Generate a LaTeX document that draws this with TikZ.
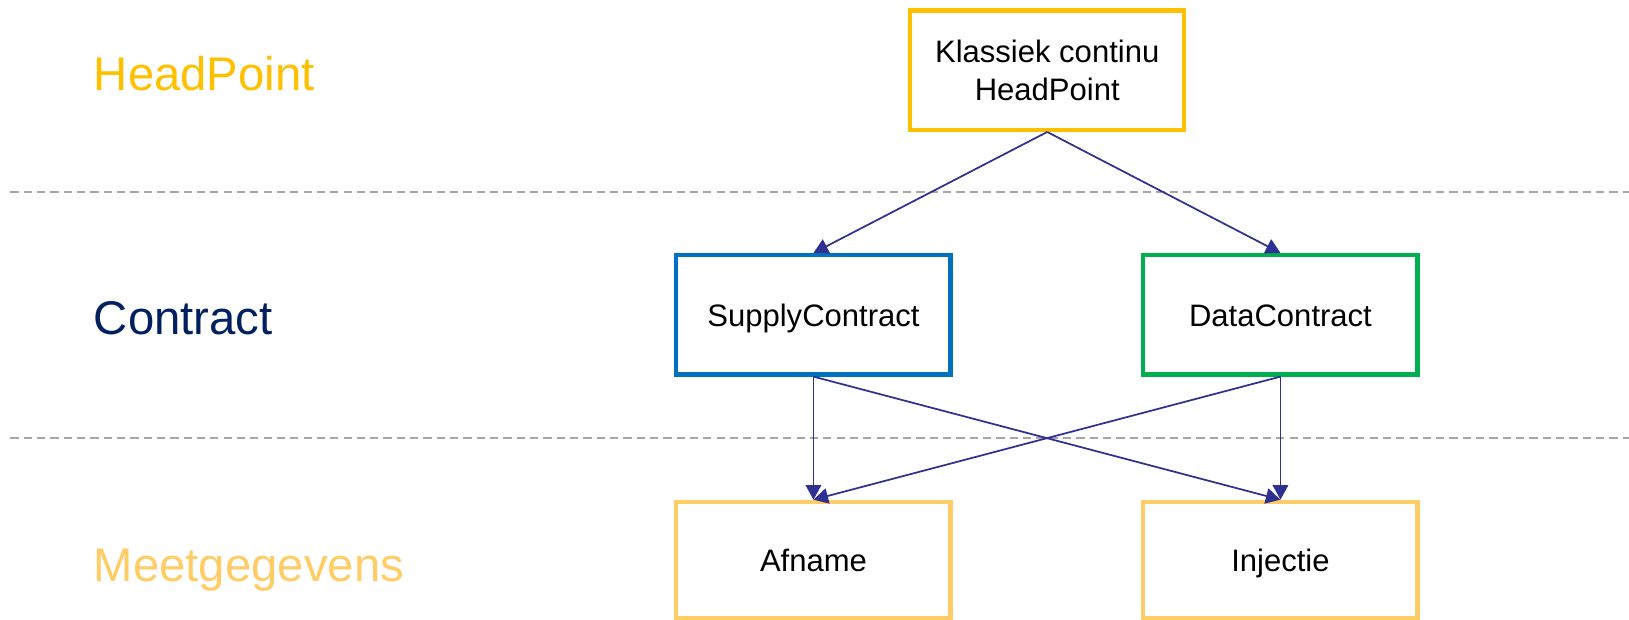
\documentclass[tikz,border=0pt]{standalone}
\usepackage{fontspec}
\setmainfont{Liberation Sans}
\usetikzlibrary{arrows.meta}
\definecolor{hpyellow}{HTML}{FFC000}
\definecolor{ctblue}{HTML}{0070C0}
\definecolor{ctgreen}{HTML}{00B050}
\definecolor{mglight}{HTML}{FFCC66}
\definecolor{navy}{HTML}{002060}
\definecolor{arrowblue}{HTML}{2E3192}
\definecolor{dashgray}{HTML}{A6A6A6}
\tikzset{
  box/.style={draw, line width=2.3pt, fill=white, minimum width=5.28cm, minimum height=2.3cm,
    align=center, font=\fontsize{17}{21}\selectfont, inner sep=0pt},
  oneline/.style={text height=14.5pt, text depth=1.5pt},
  lvl/.style={anchor=base west, inner sep=0pt, font=\fontsize{25.9}{30}\selectfont},
  conn/.style={draw=arrowblue, line width=0.95pt, -{Triangle[length=8pt,width=8.5pt]}},
  sep/.style={draw=dashgray, line width=1.1pt, dash pattern=on 4.5pt off 2.8pt}
}
\begin{document}
\begin{tikzpicture}[x=0.02cm, y=-0.02cm]
\useasboundingbox (0,0) rectangle (1568,596);
% separators
\coordinate (s1a) at (10,185); \coordinate (s1b) at (1568,185);
\coordinate (s2a) at (10,422); \coordinate (s2b) at (1568,422);
\draw[sep] (s1a) -- (s1b);
\draw[sep] (s2a) -- (s2b);
% level labels
\node[lvl, text=hpyellow] (lhp) at (90,87) {HeadPoint};
\node[lvl, text=navy] (lct) at (90,322) {Contract};
\node[lvl, text=mglight] (lmg) at (90,560) {Meetgegevens};
% boxes
\node[box, draw=hpyellow] (hp) at (1008,67.5) {Klassiek continu\\HeadPoint};
\node[box, oneline, draw=ctblue] (sup) at (783,303) {SupplyContract};
\node[box, oneline, draw=ctgreen] (dat) at (1232.5,303) {DataContract};
\node[box, oneline, draw=mglight, minimum height=2.24cm] (afn) at (783,539) {Afname};
\node[box, oneline, draw=mglight, minimum height=2.24cm] (inj) at (1232.5,539) {Injectie};
% connectors
\draw[conn] (hp.south) -- (sup.north);
\draw[conn] (hp.south) -- (dat.north);
\draw[conn] (sup.south) -- (afn.north);
\draw[conn] (sup.south) -- (inj.north);
\draw[conn] (dat.south) -- (afn.north);
\draw[conn] (dat.south) -- (inj.north);
\end{tikzpicture}
\end{document}
